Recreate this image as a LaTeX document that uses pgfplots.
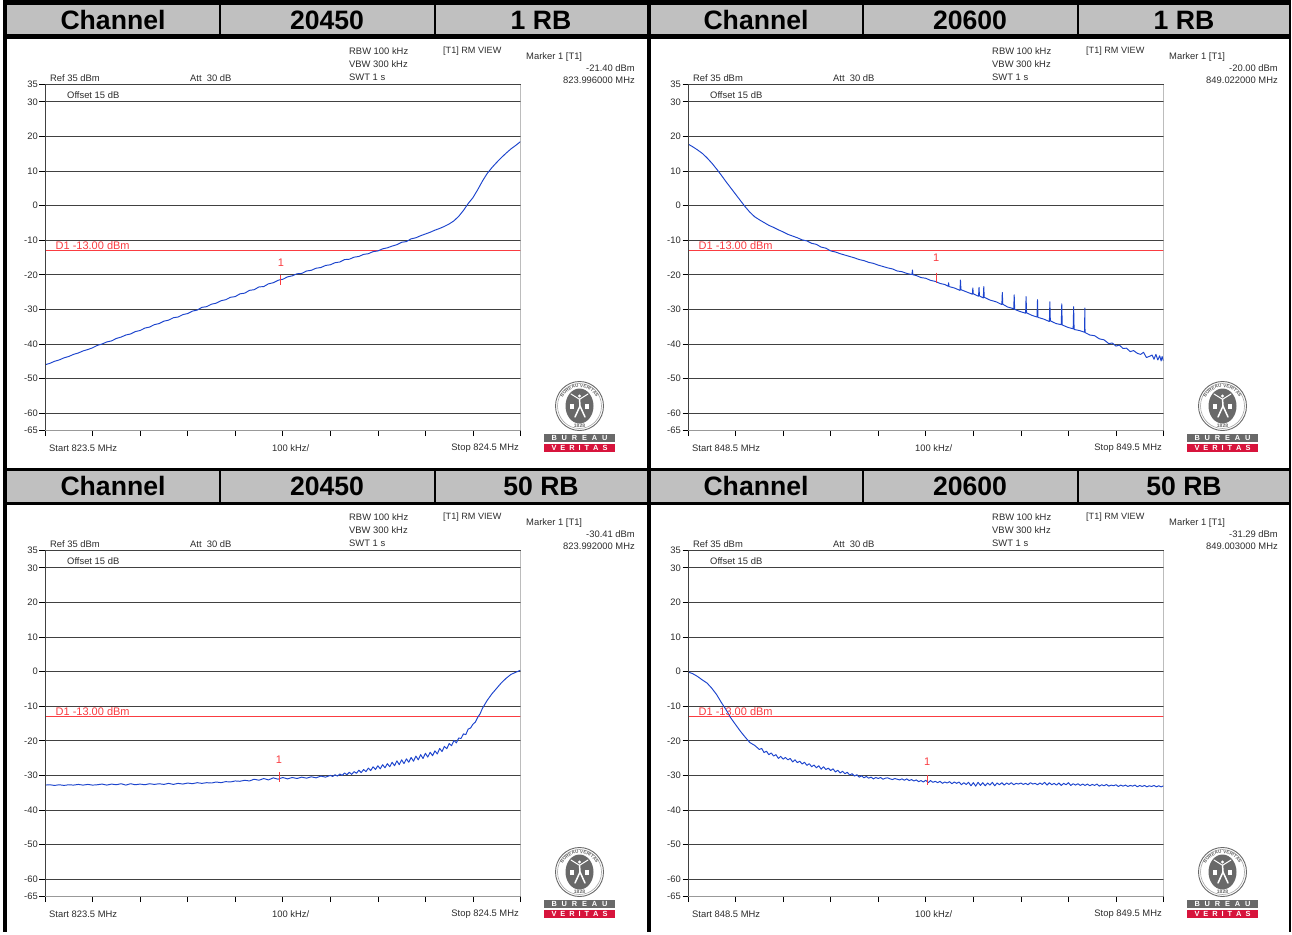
\documentclass[border=0pt]{standalone}
\usepackage{fontspec}
\setmainfont{Liberation Sans}
\usepackage{pgfplots}
\usetikzlibrary{decorations.text}
\pgfplotsset{compat=1.18}
\definecolor{trace}{RGB}{28,68,205}
\definecolor{mk}{RGB}{250,60,65}
\definecolor{hdr}{RGB}{192,192,192}
\definecolor{txt}{RGB}{45,45,45}
\definecolor{gridc}{RGB}{65,65,65}
\definecolor{logog}{RGB}{105,105,105}
\definecolor{logor}{RGB}{215,20,60}
\newcommand{\sm}{\fontsize{9.4}{11}\selectfont\color{txt}}
\newcommand{\hd}{\fontsize{26.6}{30}\selectfont\bfseries\color{black}}
\pgfplotsset{spec/.style={
  scale only axis, width=475.5pt, height=346pt,
  anchor=south west, at={(#1)},
  xmin=0, xmax=1000, ymin=-65, ymax=35,
  xtick={0,100,...,1000}, xticklabels={},
  ytick={35,30,20,10,0,-10,-20,-30,-40,-50,-60,-65},
  yticklabels={35,30,20,10,0,-10,-20,-30,-40,-50,-60,-65},
  yticklabel style={font=\sm, inner sep=0pt, xshift=-1.5pt},
  tick align=outside, tick pos=left, major tick length=5.5pt,
  tick style={black, line width=0.7pt},
  ymajorgrids, grid style={gridc, line width=1pt},
  axis line style={draw=none},
}}
\pgfplotsset{tr/.style={trace, line width=0.95pt, line join=round, no marks},
  lim/.style={mk, line width=1pt, no marks},
  mrk/.style={mk, line width=0.8pt, mark=|, mark size=5pt, mark options={mk, line width=0.8pt}}}
\newcommand{\borders}{%
  \draw[gridc, line width=1pt] (rel axis cs:0,0) -- (rel axis cs:0,1) -- (rel axis cs:1,1);
  \draw[gray!80, line width=1.1pt] (rel axis cs:1,1) -- (rel axis cs:1,0) -- (rel axis cs:0,0);
}
% panel furniture: #1 dx, #2 dy, #3 start, #4 stop, #5 level, #6 freq
\newcommand{\furn}[6]{%
  \begin{scope}[shift={(#1pt,-#2pt)}]
  \node[anchor=west,inner sep=0pt] at (349pt,-51pt) {\sm RBW 100 kHz};
  \node[anchor=west,inner sep=0pt] at (349pt,-64pt) {\sm VBW 300 kHz};
  \node[anchor=west,inner sep=0pt] at (349pt,-77pt) {\sm SWT 1 s};
  \node[anchor=west,inner sep=0pt] at (443pt,-51pt) {\fontsize{9.1}{11}\selectfont\color{txt}[T1] RM VIEW};
  \node[anchor=west,inner sep=0pt] at (526pt,-57pt) {\sm Marker 1 [T1]};
  \node[anchor=east,inner sep=0pt] at (635pt,-68pt) {\sm #5 dBm};
  \node[anchor=east,inner sep=0pt] at (635pt,-80pt) {\sm #6 MHz};
  \node[anchor=west,inner sep=0pt] at (50pt,-78pt) {\sm Ref 35 dBm};
  \node[anchor=west,inner sep=0pt] at (190pt,-78pt) {\sm Att\ \ 30 dB};
  \node[anchor=west,inner sep=0pt] at (67pt,-95.5pt) {\sm Offset 15 dB};
  \node[anchor=west,inner sep=0pt] at (49pt,-448.5pt) {\sm Start #3 MHz};
  \node[anchor=west,inner sep=0pt] at (272pt,-448.5pt) {\sm 100 kHz/};
  \node[anchor=east,inner sep=0pt] at (519pt,-448.5pt) {\sm Stop #4 MHz};
  % logo
  \fill[white, draw=logog, line width=0.9pt] (579.5pt,-406pt) ellipse (24pt and 24.5pt);
  \draw[logog!60, line width=0.6pt] (579.5pt,-406pt) ellipse (22pt and 22.5pt);
  \fill[logog] (579.5pt,-406pt) ellipse (14pt and 17.5pt);
  \path[postaction={decorate}, decoration={text along path, text align=center,
     text={|\fontsize{4.6}{5}\selectfont\bfseries\color{logog}|BUREAU VERITAS}}]
     (561.5pt,-412pt) arc[start angle=198, end angle=-18, x radius=18.9pt, y radius=18.9pt];
  \fill[white] (579.5pt,-396pt) circle (1.7pt);
  \draw[white, line width=1.5pt, line cap=round] (579.5pt,-399pt) -- (580pt,-406pt) -- (585pt,-417pt);
  \draw[white, line width=1.5pt, line cap=round] (580pt,-406pt) -- (575pt,-417pt);
  \draw[white, line width=1pt, line cap=round] (580pt,-399pt) -- (588pt,-394pt);
  \draw[white, line width=1pt, line cap=round] (579pt,-399pt) -- (571pt,-394pt);
  \fill[white] (570pt,-409pt) rectangle (574pt,-404pt);
  \fill[white] (585pt,-409pt) rectangle (589pt,-404pt);
  \fill[logog] (544pt,-434pt) rectangle (614.7pt,-442.3pt);
  \fill[logor] (544pt,-444pt) rectangle (614.7pt,-451.7pt);
  \node[inner sep=0pt,text=white] at (579.5pt,-438.2pt) {\makebox[56pt]{\fontsize{7.4}{8}\selectfont\bfseries B\hfill U\hfill R\hfill E\hfill A\hfill U}};
  \node[inner sep=0pt,text=white] at (579.5pt,-447.9pt) {\makebox[56pt]{\fontsize{7.4}{8}\selectfont\bfseries V\hfill E\hfill R\hfill I\hfill T\hfill A\hfill S}};
  \node[inner sep=0pt,text=logog] at (579.5pt,-425.8pt) {\fontsize{5}{6}\selectfont\bfseries 1828};
  \end{scope}
}
\begin{document}
\begin{tikzpicture}[x=1pt,y=1pt]
\path[use as bounding box] (0,0) rectangle (1292pt,-934pt);
\fill[black] (3.3pt,0) rectangle (1291pt,-932pt);
% headers and white panels
\foreach \a/\b/\c/\d/\f in {7/219/221/434/647, 651/862/864/1077/1289.3}{
  \pgfmathsetmacro{\e}{\d+2}
  \foreach \t/\u/\v/\w in {5/34.5/38.7/467.5, 470.7/501.7/505.3/934}{
    \fill[hdr] (\a pt,-\t pt) rectangle (\b pt,-\u pt);
    \fill[hdr] (\c pt,-\t pt) rectangle (\d pt,-\u pt);
    \fill[hdr] (\e pt,-\t pt) rectangle (\f pt,-\u pt);
    \fill[white] (\a pt,-\v pt) rectangle (\f pt,-\w pt);
  }
}
\foreach \x/\s in {113/Channel,327/20450,541/1 RB,756/Channel,970/20600,1184/1 RB}
  \node[inner sep=0pt,anchor=base] at (\x pt,-30pt) {\hd \s};
\foreach \x/\s in {113/Channel,327/20450,541/50 RB,756/Channel,970/20600,1184/50 RB}
  \node[inner sep=0pt,anchor=base] at (\x pt,-495.5pt) {\hd \s};
\furn{0}{0}{823.5}{824.5}{-21.40}{823.996000}
\furn{643}{0}{848.5}{849.5}{-20.00}{849.022000}
\furn{0}{466}{823.5}{824.5}{-30.41}{823.992000}
\furn{643}{466}{848.5}{849.5}{-31.29}{849.003000}

\begin{axis}[spec={45pt,-430.5pt}]
\addplot[lim] coordinates {(0,-13) (1000,-13)};
\addplot[tr] coordinates {(0,-46.0) (10,-45.6) (20,-45.0) (30,-44.6) (40,-44.0) (50,-43.6) (60,-43.0) (70,-42.6) (80,-42.0) (90,-41.6) (100,-41.1) (110,-40.4) (120,-40.0) (130,-39.4) (140,-39.1) (150,-38.4) (160,-38.0) (170,-37.4) (180,-37.1) (190,-36.4) (200,-36.1) (210,-35.4) (220,-35.1) (230,-34.4) (240,-34.1) (250,-33.4) (260,-33.1) (270,-32.4) (280,-32.2) (290,-31.5) (300,-31.2) (310,-30.5) (320,-30.2) (330,-29.4) (340,-29.2) (350,-28.5) (360,-28.2) (370,-27.5) (380,-27.2) (390,-26.5) (400,-26.3) (410,-25.5) (420,-25.3) (430,-24.5) (440,-24.3) (450,-23.5) (460,-23.4) (470,-22.6) (480,-22.3) (490,-21.6) (495,-21.4) (500,-21.3) (510,-20.6) (520,-20.3) (530,-19.7) (540,-19.6) (550,-18.9) (560,-18.7) (570,-18.1) (580,-17.9) (590,-17.3) (600,-17.1) (610,-16.5) (620,-16.3) (630,-15.6) (640,-15.5) (650,-14.9) (660,-14.7) (670,-14.1) (680,-13.9) (690,-13.3) (700,-13.1) (710,-12.5) (720,-12.2) (730,-11.7) (740,-11.3) (750,-10.6) (760,-10.4) (770,-9.6) (780,-9.3) (790,-8.7) (800,-8.2) (810,-7.7) (820,-7.1) (830,-6.6) (840,-6.0) (850,-5.3) (860,-4.4) (870,-3.1) (880,-1.4) (890,0.6) (900,2.3) (910,4.6) (920,7.1) (930,9.3) (940,11.0) (950,12.5) (960,13.9) (970,15.2) (980,16.4) (990,17.4) (1000,18.5)};
\addplot[mrk] coordinates {(496,-21.4)};
\node[text=mk,inner sep=0pt,font=\fontsize{11}{12}\selectfont] at (axis cs:496,-16.5) {1};
\node[text=mk,anchor=west,inner sep=0pt,font=\fontsize{11}{12}\selectfont] at (axis cs:22,-11.5) {D1 -13.00 dBm};
\borders
\end{axis}

\begin{axis}[spec={688pt,-430.5pt}]
\addplot[lim] coordinates {(0,-13) (1000,-13)};
\addplot[tr] coordinates {(0,17.8) (10,17.0) (20,16.1) (30,15.1) (40,13.8) (50,12.3) (60,10.6) (70,8.8) (80,6.9) (90,5.1) (100,3.3) (110,1.5) (120,-0.3) (130,-1.9) (140,-3.2) (150,-4.1) (160,-4.9) (170,-5.7) (180,-6.3) (190,-7.0) (200,-7.6) (210,-8.3) (220,-8.8) (230,-9.3) (240,-9.9) (250,-10.2) (260,-10.9) (270,-11.2) (280,-12.0) (290,-12.3) (300,-13.1) (310,-13.4) (320,-13.9) (330,-14.3) (340,-14.7) (350,-15.1) (360,-15.6) (370,-15.9) (380,-16.4) (390,-16.7) (400,-17.2) (410,-17.6) (420,-18.0) (430,-18.3) (440,-18.9) (450,-19.1) (460,-19.6) (470,-19.9) (471,-19.9) (472,-18.6) (473,-20.0) (480,-20.2) (490,-20.8) (500,-21.0) (510,-21.6) (520,-21.9) (530,-22.5) (540,-22.8) (547,-23.3) (548,-22.3) (549,-23.4) (560,-23.8) (572,-24.5) (573,-21.5) (574,-24.3) (585,-24.9) (598,-25.6) (599,-23.8) (600,-25.5) (611,-26.2) (612,-23.6) (613,-26.1) (621,-26.7) (622,-23.4) (623,-26.5) (635,-27.3) (648,-27.8) (660,-28.6) (661,-25.1) (662,-28.5) (672,-29.3) (685,-29.8) (686,-25.8) (687,-30.0) (698,-30.6) (710,-31.1) (711,-26.3) (712,-31.0) (723,-31.7) (734,-32.2) (735,-27.2) (736,-32.3) (748,-32.8) (760,-33.5) (761,-27.8) (762,-33.3) (774,-34.1) (785,-34.4) (786,-28.4) (787,-34.5) (799,-35.2) (810,-35.6) (811,-29.2) (812,-35.8) (823,-36.1) (834,-36.6) (834.5,-29.6) (835,-36.7) (845,-37.4) (855,-37.6) (865,-38.5) (875,-38.8) (885,-39.9) (892,-39.7) (900,-40.6) (907,-40.3) (915,-41.3) (922,-41.2) (930,-42.2) (937,-41.9) (945,-42.7) (952,-43.0) (958,-42.4) (964,-43.9) (970,-43.6) (976,-43.2) (980,-44.4) (984,-43.0) (988,-44.6) (992,-43.4) (995,-44.9) (997,-43.6) (1000,-44.9)};
\addplot[mrk] coordinates {(522,-20.8)};
\node[text=mk,inner sep=0pt,font=\fontsize{11}{12}\selectfont] at (axis cs:522,-15) {1};
\node[text=mk,anchor=west,inner sep=0pt,font=\fontsize{11}{12}\selectfont] at (axis cs:22,-11.5) {D1 -13.00 dBm};
\borders
\end{axis}

\begin{axis}[spec={45pt,-896.5pt}]
\addplot[lim] coordinates {(0,-13) (1000,-13)};
\addplot[tr] coordinates {(0,-32.8) (10,-32.7) (20,-32.9) (30,-32.7) (40,-32.9) (50,-32.7) (60,-32.8) (70,-32.6) (80,-32.8) (90,-32.6) (100,-32.8) (110,-32.7) (120,-32.5) (130,-32.8) (140,-32.5) (150,-32.7) (160,-32.4) (170,-32.8) (180,-32.4) (190,-32.7) (200,-32.5) (210,-32.7) (220,-32.4) (230,-32.6) (240,-32.4) (250,-32.6) (260,-32.3) (270,-32.6) (280,-32.3) (290,-32.5) (300,-32.2) (310,-32.4) (320,-32.1) (330,-32.3) (340,-32.1) (350,-32.2) (360,-31.9) (370,-32.1) (380,-31.8) (390,-31.9) (400,-31.6) (410,-31.7) (420,-31.4) (430,-31.6) (440,-31.1) (450,-31.4) (460,-30.9) (470,-31.3) (480,-30.7) (490,-31.1) (500,-30.6) (510,-31.0) (520,-30.6) (530,-30.9) (540,-30.5) (550,-30.8) (560,-30.4) (570,-30.7) (580,-30.2) (590,-30.5) (600,-30.0) (605,-30.3) (610,-29.8) (615,-30.2) (620,-29.6) (625,-30.0) (630,-29.3) (635,-29.8) (640,-29.1) (645,-29.7) (650,-28.9) (655,-29.4) (660,-28.5) (665,-29.2) (670,-28.3) (675,-28.9) (680,-27.9) (685,-28.6) (690,-27.5) (695,-28.3) (700,-27.2) (705,-28.1) (710,-26.9) (715,-27.8) (720,-26.6) (725,-27.5) (730,-26.2) (735,-27.2) (740,-25.8) (745,-26.9) (750,-25.5) (755,-26.6) (760,-25.2) (765,-26.2) (770,-24.8) (775,-25.9) (780,-24.4) (785,-25.5) (790,-24.0) (795,-25.1) (800,-23.6) (805,-24.7) (810,-23.3) (815,-24.3) (820,-22.9) (825,-23.8) (830,-22.2) (835,-23.1) (840,-21.6) (845,-22.3) (850,-20.8) (855,-21.4) (860,-19.9) (865,-20.6) (870,-19.2) (875,-19.3) (880,-18.0) (885,-18.2) (890,-16.6) (895,-16.3) (900,-15.2) (905,-14.6) (910,-13.2) (915,-12.2) (920,-10.6) (930,-8.3) (940,-6.4) (950,-4.8) (960,-3.2) (970,-1.9) (980,-0.8) (990,-0.2) (1000,0.4)};
\addplot[mrk] coordinates {(492,-30.6)};
\node[text=mk,inner sep=0pt,font=\fontsize{11}{12}\selectfont] at (axis cs:492,-25.4) {1};
\node[text=mk,anchor=west,inner sep=0pt,font=\fontsize{11}{12}\selectfont] at (axis cs:22,-11.5) {D1 -13.00 dBm};
\borders
\end{axis}

\begin{axis}[spec={688pt,-896.5pt}]
\addplot[lim] coordinates {(0,-13) (1000,-13)};
\addplot[tr] coordinates {(0,-0.1) (10,-0.6) (20,-1.4) (30,-2.4) (40,-3.3) (50,-4.8) (60,-6.6) (70,-8.9) (80,-11.0) (90,-13.4) (100,-15.3) (110,-17.2) (120,-18.9) (130,-20.5) (140,-21.3) (150,-22.5) (155,-22.2) (160,-23.4) (165,-23.0) (170,-24.0) (175,-23.5) (180,-24.4) (185,-24.0) (190,-25.1) (195,-24.5) (200,-25.3) (205,-24.8) (210,-25.5) (215,-25.1) (220,-26.1) (225,-25.5) (230,-26.3) (235,-25.9) (240,-26.7) (245,-26.2) (250,-27.1) (255,-26.6) (260,-27.5) (265,-27.0) (270,-27.8) (275,-27.2) (280,-28.2) (285,-27.5) (290,-28.3) (295,-27.9) (300,-28.6) (305,-28.1) (310,-29.0) (315,-28.5) (320,-29.3) (325,-28.8) (330,-29.5) (335,-29.1) (340,-29.9) (345,-29.5) (350,-30.2) (355,-29.8) (360,-30.5) (365,-30.1) (370,-30.7) (375,-30.3) (380,-30.8) (385,-30.5) (390,-31.0) (395,-30.6) (400,-30.9) (405,-30.6) (410,-31.1) (415,-30.8) (420,-30.7) (425,-31.0) (430,-31.2) (435,-30.9) (440,-31.1) (445,-31.3) (450,-31.0) (455,-31.4) (460,-31.0) (465,-31.5) (470,-31.2) (475,-31.6) (480,-31.3) (485,-31.8) (490,-31.5) (495,-31.9) (500,-31.4) (505,-32.1) (510,-31.5) (515,-32.0) (520,-31.7) (525,-32.1) (530,-31.7) (535,-32.3) (540,-31.9) (545,-32.2) (550,-31.8) (555,-32.4) (560,-31.9) (565,-32.3) (570,-31.9) (575,-32.7) (580,-32.1) (585,-32.6) (590,-32.0) (595,-33.0) (600,-32.1) (605,-33.1) (610,-32.0) (615,-32.9) (620,-32.1) (625,-33.0) (630,-32.2) (635,-32.8) (640,-32.0) (645,-33.0) (650,-32.2) (655,-32.7) (660,-32.1) (665,-32.8) (670,-32.2) (675,-32.6) (680,-32.1) (685,-32.7) (690,-32.3) (695,-32.5) (700,-32.2) (705,-32.6) (710,-32.3) (715,-32.7) (720,-32.1) (725,-32.5) (730,-32.3) (735,-32.7) (740,-32.2) (745,-32.6) (750,-32.0) (755,-32.8) (760,-32.1) (765,-32.7) (770,-32.3) (775,-32.8) (780,-32.2) (785,-32.9) (790,-32.3) (795,-32.7) (800,-32.1) (805,-32.9) (810,-32.4) (815,-32.8) (820,-32.4) (825,-32.9) (830,-32.5) (835,-32.9) (840,-32.5) (845,-33.0) (850,-32.6) (855,-32.9) (860,-32.5) (865,-33.1) (870,-32.7) (875,-33.0) (880,-32.6) (885,-33.1) (890,-32.8) (895,-33.0) (900,-32.7) (905,-33.2) (910,-32.8) (915,-33.1) (920,-32.8) (925,-33.2) (930,-32.9) (935,-33.1) (940,-32.8) (945,-33.3) (950,-32.9) (955,-33.2) (960,-32.9) (965,-33.3) (970,-33.0) (975,-33.2) (980,-32.9) (985,-33.3) (990,-33.0) (995,-33.3) (1000,-33.0)};
\addplot[mrk] coordinates {(503,-31.3)};
\node[text=mk,inner sep=0pt,font=\fontsize{11}{12}\selectfont] at (axis cs:503,-26) {1};
\node[text=mk,anchor=west,inner sep=0pt,font=\fontsize{11}{12}\selectfont] at (axis cs:22,-11.5) {D1 -13.00 dBm};
\borders
\end{axis}
\end{tikzpicture}
\end{document}
